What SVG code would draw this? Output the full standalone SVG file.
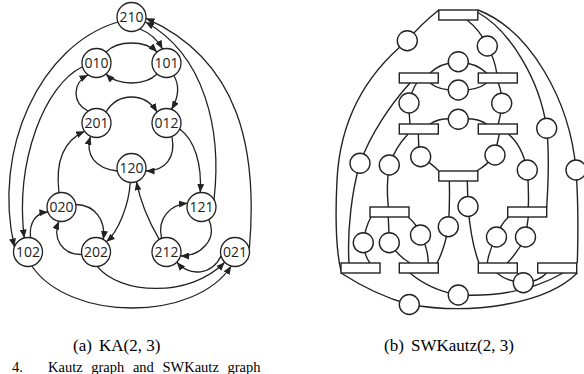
<svg xmlns="http://www.w3.org/2000/svg" width="584" height="374" viewBox="0 0 584 374">
<style>
.n circle{fill:#fff;stroke:#222;stroke-width:1.3}
.n text{font-family:"Open Sans","Liberation Sans",sans-serif;font-size:14px;fill:#222;text-anchor:middle}
.e path{fill:none;stroke:#222;stroke-width:1.3;marker-end:url(#ah)}
.w path{fill:none;stroke:#222;stroke-width:1.4}
.s rect,.s circle{fill:#fff;stroke:#222;stroke-width:1.4}
.cap{font-family:"Liberation Serif",serif;font-size:17px;fill:#000}
.fig{font-family:"Liberation Serif",serif;font-size:14.5px;fill:#000;word-spacing:5px}
</style>
<defs>
<marker id="ah" markerUnits="userSpaceOnUse" markerWidth="9" markerHeight="7" refX="8.5" refY="3.5" orient="auto">
<path d="M0,0 L8.5,3.5 L0,7 z" fill="#222"/>
</marker>
</defs>

<g id="ka-edges" class="e">
<path d="M140,29 Q155,35 162.5,49"/>
<path d="M118,22 C40,45 -8,150 14.4,247"/>
<path d="M82,67 C45,85 15,160 24.2,238"/>
<path d="M106,52 C118,40 145,40 157,52"/>
<path d="M157,74 C145,86 118,86 106,74"/>
<path d="M174,76 C180,86 178,98 171.5,109.4"/>
<path d="M88,111 C72,103 72,83 88,75"/>
<path d="M106,112 C118,92 145,92 157,112"/>
<path d="M172,137 C176,158 165,171 146,171"/>
<path d="M117,171 C95,168 85,155 90.4,136.5"/>
<path d="M179.6,129 C195,140 202,165 200.2,192.5"/>
<path d="M130.2,182.5 C129,205 118,232 106.3,241.7"/>
<path d="M159.2,239.4 C148,220 140,200 136.5,181.8"/>
<path d="M161.5,238.4 C157,218 170,205 187.5,203.2"/>
<path d="M208.8,219.6 C218,240 200,256 180.5,256"/>
<path d="M221,256 C212,275 190,277 176.8,262.3"/>
<path d="M214,199.7 C222,130 205,55 145.5,22"/>
<path d="M249.3,249.5 C258,150 240,60 146,18.3"/>
<path d="M75.8,204.5 C95,205 106,220 103.3,239.4"/>
<path d="M81.7,254.5 C62,255 52,238 59,221.3"/>
<path d="M30.5,237.7 C29,222 36,213 47.9,212"/>
<path d="M59,192.7 C55,160 65,140 84.6,131.3"/>
<path d="M97.3,266.4 C120,295 190,298 224.7,262.3"/>
<path d="M31.8,266 C70,322 195,322 231.2,266"/>
</g>

<g id="n210" class="n"><circle cx="131.5" cy="17" r="14.5"/><text x="131.5" y="22">210</text></g>
<g id="n010" class="n"><circle cx="96.5" cy="63" r="14.5"/><text x="96.5" y="68">010</text></g>
<g id="n101" class="n"><circle cx="166.5" cy="63" r="14.5"/><text x="166.5" y="68">101</text></g>
<g id="n201" class="n"><circle cx="96.5" cy="123" r="14.5"/><text x="96.5" y="128">201</text></g>
<g id="n012" class="n"><circle cx="166.5" cy="123" r="14.5"/><text x="166.5" y="128">012</text></g>
<g id="n120" class="n"><circle cx="131.5" cy="168" r="14.5"/><text x="131.5" y="173">120</text></g>
<g id="n020" class="n"><circle cx="61.5" cy="207" r="14.5"/><text x="61.5" y="212">020</text></g>
<g id="n121" class="n"><circle cx="201.5" cy="207" r="14.5"/><text x="201.5" y="212">121</text></g>
<g id="n102" class="n"><circle cx="28" cy="252" r="14.5"/><text x="28" y="257">102</text></g>
<g id="n202" class="n"><circle cx="96" cy="252" r="14.5"/><text x="96" y="257">202</text></g>
<g id="n212" class="n"><circle cx="166.5" cy="252" r="14.5"/><text x="166.5" y="257">212</text></g>
<g id="n021" class="n"><circle cx="235" cy="252" r="14.5"/><text x="235" y="257">021</text></g>

<g id="sw-edges" class="w">
<path d="M438.8,10 Q420,25 407.3,40.7 C365,75 340,120 337,180 C335,220 336,250 341,271"/>
<path d="M410,83 C390,105 370,135 360,163.3 C352,190 347,230 349,263"/>
<path d="M416.7,83 Q411,92 409,103 Q409,114 410,124"/>
<path d="M408,134 Q395,148 389.3,165 Q386,185 388.3,207"/>
<path d="M418.3,134 Q418,146 420.7,156.7 Q432,164 438.8,171"/>
<path d="M430,73 Q440,63 458.3,61.7 Q476,63 486.7,73"/>
<path d="M430,83 Q440,91 458.3,90 Q476,91 486.7,83"/>
<path d="M430,124 Q440,117 458.3,119.3 Q476,117 486.7,124"/>
<path d="M467,20 Q480,30 487.3,46 Q495,60 496.7,73"/>
<path d="M498.3,83 Q502,92 501.7,103.3 Q501,115 498.3,124"/>
<path d="M477,12 C510,30 540,80 546.7,128.3 C550,160 548,185 546.7,207"/>
<path d="M478,10 C530,30 570,100 576,170 C579,210 578,240 577.3,263"/>
<path d="M499.3,134 Q497,144 495,155 Q487,165 476.7,171"/>
<path d="M508.3,134 Q522,145 527.3,170 Q529,190 528.3,207"/>
<path d="M467.3,181 L468,206.5 C470,230 474,250 479,263"/>
<path d="M449.3,181 Q450,205 448.3,226.7 Q445,248 437,263"/>
<path d="M371,217 Q365,228 363.3,242.7 Q364,255 370,263"/>
<path d="M388.3,217 L389.3,242.7 Q398,256 410,263"/>
<path d="M408,217 Q417,224 420.5,235 Q428,248 428.3,263"/>
<path d="M508.5,217 Q500,225 496.5,237 Q489,250 487.3,263"/>
<path d="M528.3,217 L525.5,237 Q518,252 507.3,263"/>
<path d="M496.7,273 Q508,282 523.3,282.7 Q538,282 546.7,273"/>
<path d="M410,273 Q430,290 458.3,295 Q520,298 563,273"/>
<path d="M341,273 Q375,295 409.3,304.5 C470,315 545,305 577.3,273"/>
</g>

<g id="sw-r210" class="s"><rect x="438.8" y="10" width="39" height="10"/></g>
<g id="sw-r010" class="s"><rect x="399.3" y="73" width="39" height="10"/></g>
<g id="sw-r101" class="s"><rect x="478.3" y="73" width="39" height="10"/></g>
<g id="sw-r201" class="s"><rect x="399.3" y="124" width="39" height="10"/></g>
<g id="sw-r012" class="s"><rect x="478.3" y="124" width="39" height="10"/></g>
<g id="sw-r120" class="s"><rect x="438.8" y="171" width="39" height="10"/></g>
<g id="sw-r020" class="s"><rect x="370" y="207" width="39" height="10"/></g>
<g id="sw-r121" class="s"><rect x="507.7" y="207" width="39" height="10"/></g>
<g id="sw-r102" class="s"><rect x="341" y="263" width="39" height="10"/></g>
<g id="sw-r202" class="s"><rect x="399.3" y="263" width="39" height="10"/></g>
<g id="sw-r212" class="s"><rect x="478.3" y="263" width="39" height="10"/></g>
<g id="sw-r021" class="s"><rect x="537.7" y="263" width="39" height="10"/></g>

<g id="sw-c1" class="s"><circle cx="407.3" cy="40.7" r="10"/></g>
<g id="sw-c2" class="s"><circle cx="487.3" cy="46" r="10"/></g>
<g id="sw-c3" class="s"><circle cx="458.3" cy="61.7" r="10"/></g>
<g id="sw-c4" class="s"><circle cx="458.3" cy="90" r="10"/></g>
<g id="sw-c5" class="s"><circle cx="409" cy="103" r="10"/></g>
<g id="sw-c6" class="s"><circle cx="501.7" cy="103.3" r="10"/></g>
<g id="sw-c7" class="s"><circle cx="458.3" cy="119.3" r="10"/></g>
<g id="sw-c8" class="s"><circle cx="546.7" cy="128.3" r="10"/></g>
<g id="sw-c9" class="s"><circle cx="360" cy="163.3" r="10"/></g>
<g id="sw-c10" class="s"><circle cx="389.3" cy="165" r="10"/></g>
<g id="sw-c11" class="s"><circle cx="420.7" cy="156.7" r="10"/></g>
<g id="sw-c12" class="s"><circle cx="495" cy="155" r="10"/></g>
<g id="sw-c13" class="s"><circle cx="527.3" cy="170" r="10"/></g>
<g id="sw-c14" class="s"><circle cx="576" cy="170" r="10"/></g>
<g id="sw-c15" class="s"><circle cx="468" cy="206.5" r="10"/></g>
<g id="sw-c16" class="s"><circle cx="448.3" cy="226.7" r="10"/></g>
<g id="sw-c17" class="s"><circle cx="363.3" cy="242.7" r="10"/></g>
<g id="sw-c18" class="s"><circle cx="389.3" cy="242.7" r="10"/></g>
<g id="sw-c19" class="s"><circle cx="420.5" cy="235" r="10"/></g>
<g id="sw-c20" class="s"><circle cx="496.5" cy="237" r="10"/></g>
<g id="sw-c21" class="s"><circle cx="525.5" cy="237" r="10"/></g>
<g id="sw-c22" class="s"><circle cx="523.3" cy="282.7" r="10"/></g>
<g id="sw-c23" class="s"><circle cx="458.3" cy="295" r="10"/></g>
<g id="sw-c24" class="s"><circle cx="409.3" cy="304.5" r="10"/></g>

<g id="captions">
<text class="cap" y="351"><tspan x="73">(a)</tspan><tspan x="99">KA(2, 3)</tspan></text>
<text class="cap" y="351"><tspan x="384">(b)</tspan><tspan x="411">SWKautz(2, 3)</tspan></text>
<text class="fig" y="372"><tspan x="12">4.</tspan><tspan x="48">Kautz graph and SWKautz graph</tspan></text>
</g>
</svg>
